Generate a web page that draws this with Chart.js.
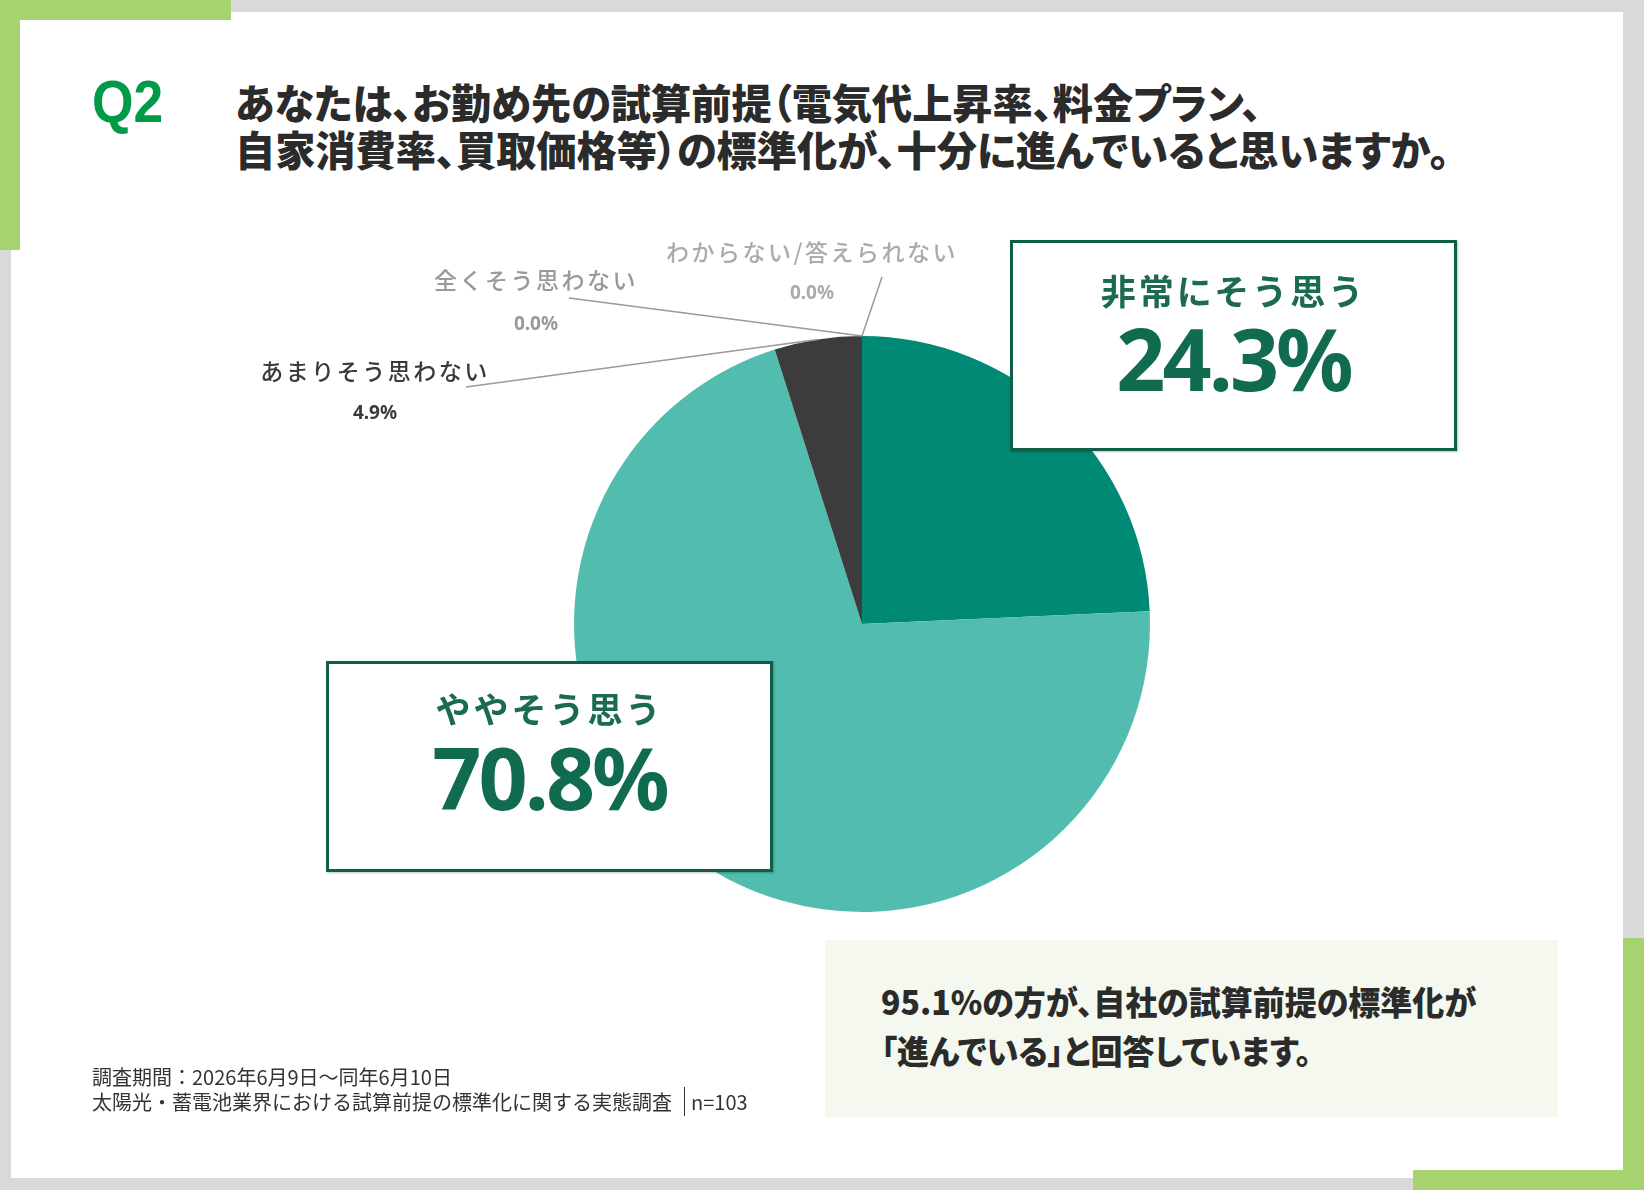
<!DOCTYPE html>
<html lang="ja">
<head>
<meta charset="utf-8">
<title>Q2 試算前提の標準化</title>
<script src="https://cdn.jsdelivr.net/npm/chart.js@4.4.1/dist/chart.umd.min.js"></script>
<style>
  html, body { margin: 0; padding: 0; }
  body {
    width: 1644px; height: 1190px; position: relative; overflow: hidden;
    background: #d9d9d9;
    font-family: "Noto Sans CJK JP", "Noto Sans", sans-serif;
  }
  .panel { position: absolute; left: 11px; top: 12px; width: 1612px; height: 1166px; background: #fff; }
  .accent { position: absolute; background: #a6d270; }
  .chart-wrap { position: absolute; left: 0; top: 0; width: 1644px; height: 1190px; }
  .q { position: absolute; left: 92px; top: 72px; font: bold 60px/60px "Liberation Sans", Arial, sans-serif;
       color: #009a48; transform: scaleX(0.89); transform-origin: left top; }
  .title { position: absolute; left: 235px; top: 78px; font-size: 41px; line-height: 47px; font-weight: 900;
           color: #2b2b2b; white-space: nowrap; font-feature-settings: "palt";
           transform: scaleX(0.98); transform-origin: left top; }
  .callout { position: absolute; box-sizing: border-box; width: 447px; height: 211px; background: #fff;
             border: 3px solid #0f5e46; box-shadow: 1px 1px 2px rgba(0,0,0,0.25); }
  .callout .name { position: absolute; left: 0; right: 0; text-align: center; font-size: 35px; line-height: 40px;
                   font-weight: 700; letter-spacing: 3px; color: #1b6a52; }
  .callout .pct { position: absolute; left: 0; right: 0; text-align: center; font: 700 86px/100px "Noto Sans", sans-serif;
                  letter-spacing: -3px; color: #116b51; }
  .summary { position: absolute; left: 825px; top: 940px; width: 733px; height: 177px; background: #f4f8ee; }
  .summary p { position: absolute; left: 56px; top: 37px; margin: 0; font-size: 33px; line-height: 49px; font-weight: 900;
               color: #2b2b2b; white-space: nowrap; font-feature-settings: "palt";
               transform: scaleX(0.97); transform-origin: left top; }
  .note { position: absolute; left: 92px; top: 1064px; font-size: 20px; line-height: 25px; color: #333; white-space: nowrap; }
  .note .sep { border-left: 1.5px solid #333; padding-left: 6px; margin-left: 12px; }
</style>
</head>
<body>
<div class="panel"></div>
<div class="accent" style="left:0;top:0;width:231px;height:20px"></div>
<div class="accent" style="left:0;top:0;width:20px;height:250px"></div>
<div class="accent" style="left:1623px;top:938px;width:21px;height:252px"></div>
<div class="accent" style="left:1413px;top:1170px;width:231px;height:20px"></div>

<div class="q">Q2</div>
<div class="title">あなたは、お勤め先の試算前提（電気代上昇率、料金プラン、<br>自家消費率、買取価格等）の標準化が、十分に進んでいると思いますか。</div>

<div class="chart-wrap"><canvas id="pie"></canvas></div>

<div class="callout" id="box0" style="left:1010px;top:240px"></div>
<div class="callout" id="box1" style="left:326px;top:661px"></div>

<div class="summary"><p>95.1%の方が、自社の試算前提の標準化が<br>「進んでいる」と回答しています。</p></div>

<div class="note">調査期間：2026年6月9日～同年6月10日<br>太陽光・蓄電池業界における試算前提の標準化に関する実態調査<span class="sep">n=103</span></div>

<script>
const categories = ["非常にそう思う", "ややそう思う", "あまりそう思わない", "全くそう思わない", "わからない/答えられない"];
const percentages = [24.3, 70.8, 4.9, 0.0, 0.0];
const sliceColors = ["#008a76", "#52bdaf", "#3c3c3c", "#9a9a9a", "#c8c8c8"];

// callout boxes for the two big slices
[0, 1].forEach((i) => {
  const box = document.getElementById("box" + i);
  box.innerHTML =
    `<div class="name" style="top:${i === 0 ? 27 : 24}px">${categories[i]}</div>` +
    `<div class="pct" style="top:${i === 0 ? 65 : 63}px">${percentages[i].toFixed(1)}%</div>`;
});

// small slices: text anchor and where the leader line starts
const smallLabels = {
  2: { tx: 375, ty: 371, vy: 414, lx: 466, ly: 387, color: "#3a3a3a" },
  3: { tx: 536, ty: 280, vy: 325, lx: 569, ly: 298, color: "#999999" },
  4: { tx: 812, ty: 252, vy: 294, lx: 882, ly: 277, color: "#ababab" }
};

const leaderPlugin = {
  id: "leaders",
  afterDatasetsDraw(chart) {
    const ctx = chart.ctx;
    const meta = chart.getDatasetMeta(0);
    Object.keys(smallLabels).forEach((k) => {
      const i = Number(k);
      const cfg = smallLabels[i];
      const arc = meta.data[i];
      const mid = (arc.startAngle + arc.endAngle) / 2;
      const px = arc.x + Math.cos(mid) * arc.outerRadius;
      const py = arc.y + Math.sin(mid) * arc.outerRadius;

      ctx.save();
      ctx.strokeStyle = "#9a9a9a";
      ctx.lineWidth = 1.5;
      ctx.beginPath();
      ctx.moveTo(cfg.lx, cfg.ly);
      ctx.lineTo(px, py);
      ctx.stroke();

      ctx.fillStyle = cfg.color;
      ctx.textAlign = "center";
      ctx.textBaseline = "middle";
      ctx.font = '500 23px "Noto Sans CJK JP"';
      ctx.letterSpacing = "2.5px";
      ctx.fillText(categories[i], cfg.tx, cfg.ty);
      ctx.font = '700 19px "Noto Sans"';
      ctx.letterSpacing = "0px";
      ctx.fillText(percentages[i].toFixed(1) + "%", cfg.tx, cfg.vy);
      ctx.restore();
    });
  }
};

new Chart(document.getElementById("pie"), {
  type: "pie",
  data: {
    labels: categories,
    datasets: [{ data: percentages, backgroundColor: sliceColors, borderWidth: 0 }]
  },
  options: {
    responsive: true,
    maintainAspectRatio: false,
    animation: false,
    layout: { padding: { left: 574, right: 494, top: 336, bottom: 278 } },
    plugins: { legend: { display: false }, tooltip: { enabled: false } }
  },
  plugins: [leaderPlugin]
});
</script>
</body>
</html>
